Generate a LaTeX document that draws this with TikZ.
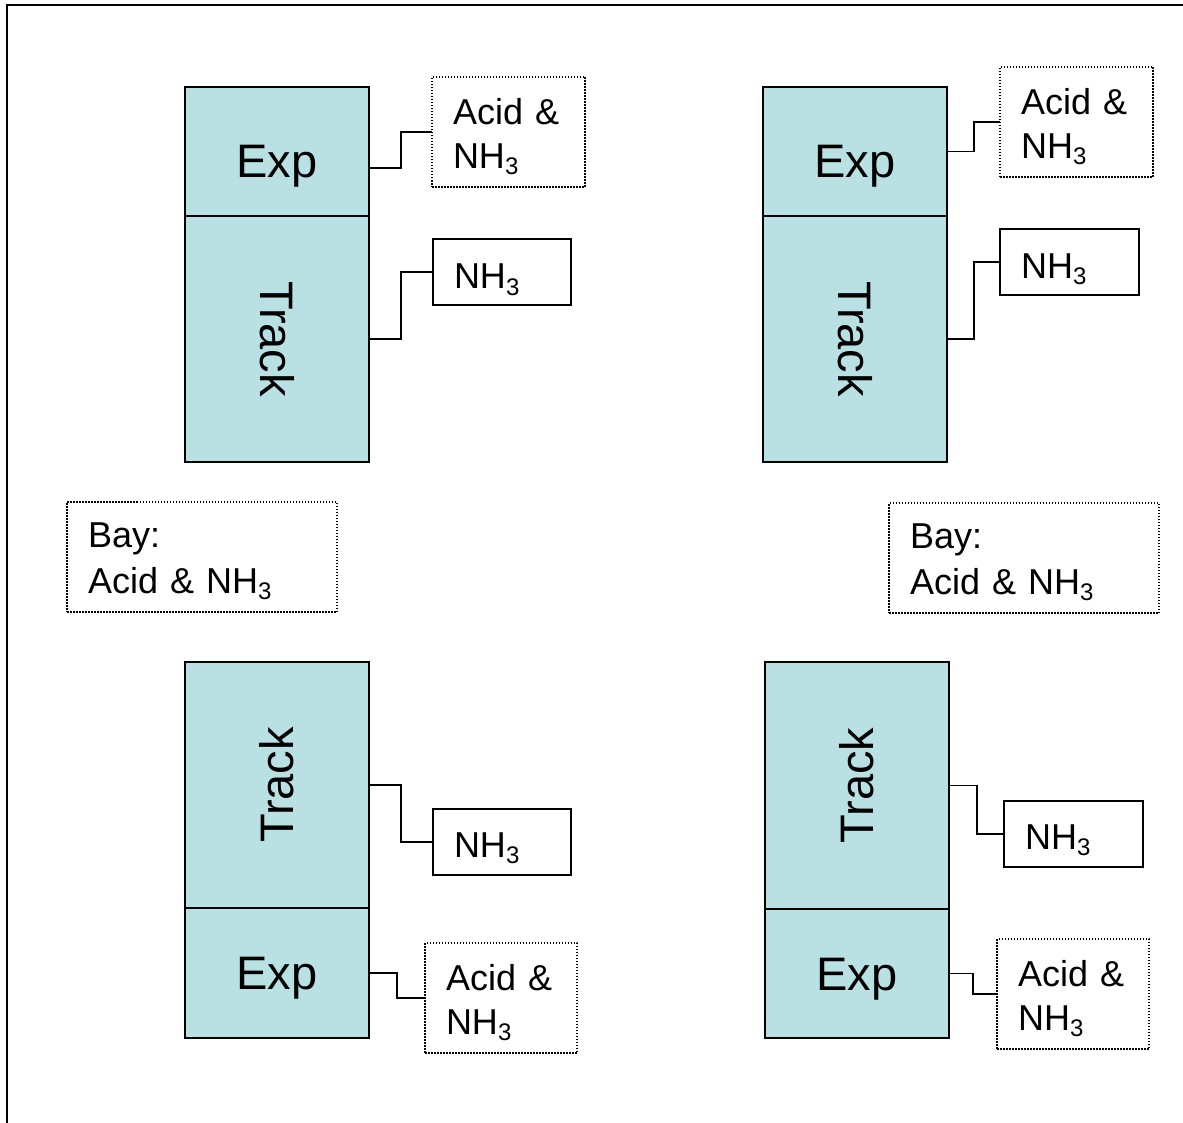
\documentclass[tikz,border=0pt]{standalone}
\usepackage{fontspec}
\setmainfont{Liberation Sans}
\definecolor{cellfill}{RGB}{185,224,227}
\newcommand\subthree{\raisebox{-6pt}{\fontsize{24}{24}\selectfont 3}}
\newcommand\ammonia{NH\subthree}
\newcommand\topstrut[1]{\rule{0pt}{#1}}
\begin{document}
\begin{tikzpicture}[x=1pt,y=-1pt,
  unitbox/.style={draw, line width=2pt, fill=cellfill, inner sep=0pt, outer sep=0pt,
    minimum width=184pt, font=\fontsize{47}{56}\selectfont},
  explow/.style={unitbox, text height=58pt, text depth=5pt},
  exphigh/.style={unitbox, text height=38pt, text depth=5pt},
  tagbox/.style={draw, inner xsep=21pt, inner ysep=0pt, outer sep=0pt, align=left,
    font=\fontsize{36}{44}\selectfont},
  solidtag/.style={tagbox, line width=1.8pt, text width=96pt, minimum height=66pt,
    text height=40pt, text depth=6pt},
  dottedtag/.style={tagbox, line width=1.5pt, dash pattern=on 1.5pt off 1.5pt,
    text width=111pt, minimum height=110pt},
  baytag/.style={tagbox, line width=1.5pt, dash pattern=on 1.5pt off 1.5pt,
    text width=228pt, minimum height=110pt, font=\fontsize{36}{46}\selectfont},
  link/.style={line width=1.5pt}
]
\useasboundingbox (0,0) rectangle (1183,1123);

% page frame: top and left edges only
\draw[line width=2.2pt] (7,1123) -- (7,5) -- (1183,5);

% ---------- upper left ----------
\node[explow, minimum height=129pt] (expA) at (277,151.5) {Exp};
\node[unitbox, minimum height=246pt] (trkA) at (277,339) {\rotatebox{-90}{Track}};
\node[dottedtag] (acidA) at (508.5,132) {\topstrut{35pt}Acid \&\\\ammonia};
\node[solidtag] (nhA) at (502,272) {\ammonia};
\draw[link] ([yshift=-16.5pt]expA.east) -- ++(32,0) |- (acidA.west);
\draw[link] (trkA.east) -- ++(32,0) |- (nhA.west);

% ---------- upper right ----------
\node[explow, minimum height=129pt] (expB) at (855,151.5) {Exp};
\node[unitbox, minimum height=246pt] (trkB) at (855,339) {\rotatebox{-90}{Track}};
\node[dottedtag] (acidB) at (1076.5,122) {\topstrut{35pt}Acid \&\\\ammonia};
\node[solidtag, text width=97pt] (nhB) at (1069.5,262) {\ammonia};
\draw[link] (expB.east) -- ++(27,0) |- (acidB.west);
\draw[link] (trkB.east) -- ++(27,0) |- (nhB.west);

% ---------- bay labels ----------
\node[baytag] (bayL) at (202,557) {\topstrut{33pt}Bay:\\Acid \& \ammonia};
\node[baytag] (bayR) at (1024,558) {\topstrut{33pt}Bay:\\Acid \& \ammonia};

% ---------- lower left ----------
\node[unitbox, minimum height=246pt] (trkC) at (277,785) {\rotatebox{90}{Track}};
\node[exphigh, minimum height=130pt] (expC) at (277,973) {Exp};
\node[solidtag, text height=36pt, text depth=6pt] (nhC) at (502,842) {\ammonia};
\node[dottedtag, text width=110pt] (acidC) at (501,998) {\topstrut{35pt}Acid \&\\\ammonia};
\draw[link] (trkC.east) -- ++(32,0) |- (nhC.west);
\draw[link] (expC.east) -- ++(28,0) |- (acidC.west);

% ---------- lower right ----------
\node[unitbox, minimum height=247pt] (trkD) at (857,785.5) {\rotatebox{90}{Track}};
\node[exphigh, minimum height=129pt] (expD) at (857,973.5) {Exp};
\node[solidtag, text width=97pt, text height=36pt, text depth=6pt] (nhD) at (1073.5,834) {\ammonia};
\node[dottedtag, text width=110pt] (acidD) at (1073,994) {\topstrut{35pt}Acid \&\\\ammonia};
\draw[link] (trkD.east) -- ++(28,0) |- (nhD.west);
\draw[link] (expD.east) -- ++(24,0) |- (acidD.west);
\end{tikzpicture}
\end{document}
